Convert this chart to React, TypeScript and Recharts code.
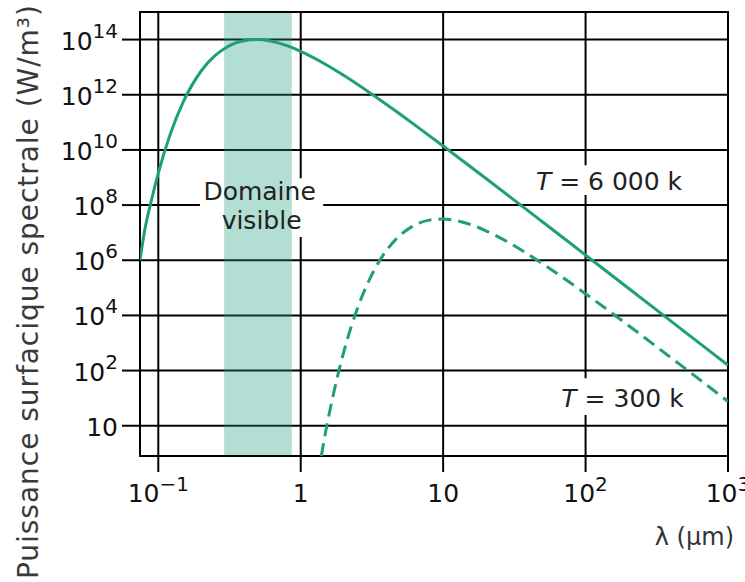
import React from 'react';
import { LineChart, Line, XAxis, YAxis, CartesianGrid, ReferenceArea } from 'recharts';

// Wavelength (µm) and spectral exitance (W/m³)
const lambda6000 = [0.0744, 0.08, 0.09, 0.1, 0.12, 0.15, 0.2, 0.25, 0.3, 0.4, 0.5, 0.6, 0.8, 1, 1.5, 2, 3, 5, 7, 10, 20, 50, 100, 200, 500, 1000];
const power6000 = [1e6, 1.1e7, 1.7e8, 1.44e9, 3.16e10, 5.6e11, 7.26e12, 2.6e13, 5.2e13, 9.1e13, 1.0e14, 9.0e13, 6.0e13, 3.74e13, 1.25e13, 5.05e12, 1.26e12, 1.95e11, 5.45e10, 1.38e10, 9.2e8, 2.44e7, 1.54e6, 9.7e4, 2.49e3, 156];

const lambda300 = [1.395, 1.45, 1.5, 1.6, 1.7, 1.85, 2, 2.25, 2.5, 3, 3.5, 4, 5, 6, 8, 10, 12, 15, 20, 30, 50, 100, 200, 500, 1000];
const power300 = [0.08, 0.252, 0.64, 3.42, 14.7, 95, 451, 3580, 1.79e4, 1.75e5, 7.98e5, 2.27e6, 8.17e6, 1.62e7, 2.85e7, 3.12e7, 2.82e7, 2.1e7, 1.17e7, 3.9e6, 7.43e5, 6.08e4, 4.32e3, 119, 7.6];

const xTicks = [0.1, 1, 10, 100, 1000];
const xTickBase = ['10', '1', '10', '10', '10'];
const xTickExp = ['\u22121', '', '', '2', '3'];

const yTicks = [1, 1e2, 1e4, 1e6, 1e8, 1e10, 1e12, 1e14];
const yTickBase = ['10', '10', '10', '10', '10', '10', '10', '10'];
const yTickExp = ['', '2', '4', '6', '8', '10', '12', '14'];

const xDomain = [0.0744, 1000];
const yDomain = [0.08, 1e15];
const visibleBand = [0.29, 0.865];

const labelDomaine = { x1: 0.196, x2: 1.44, y1: 6.9e6, y2: 9.3e8 };
const label6000 = { x1: 39.5, x2: 541, y1: 2.3e8, y2: 2.8e9 };
const label300 = { x1: 61, x2: 541, y1: 2.44, y2: 53 };

const TEAL = '#1f9e7d';
const FONT = '"DejaVu Sans", Verdana, sans-serif';

const series6000 = lambda6000.map((l, i) => ({ l, p: power6000[i] }));
const series300 = lambda300.map((l, i) => ({ l, p: power300[i] }));

const XTick = (props: any) => {
  const { x, y, payload } = props;
  const i = xTicks.indexOf(payload.value);
  return (
    <text x={x} y={y + 28} textAnchor="middle" fontFamily={FONT} fontSize={25} fill="#111">
      <tspan>{xTickBase[i]}</tspan>
      {xTickExp[i] ? <tspan dy={-11} fontSize={20}>{xTickExp[i]}</tspan> : null}
    </text>
  );
};

const YTick = (props: any) => {
  const { x, y, payload } = props;
  const i = yTicks.indexOf(payload.value);
  return (
    <text x={x} y={y + 10} textAnchor="end" fontFamily={FONT} fontSize={25} fill="#111">
      <tspan>{yTickBase[i]}</tspan>
      {yTickExp[i] ? <tspan dy={-12} fontSize={20}>{yTickExp[i]}</tspan> : null}
    </text>
  );
};

const DomaineText = (props: any) => {
  const { x, y, width } = props.viewBox;
  const cx = x + width / 2;
  return (
    <text textAnchor="middle" fontFamily={FONT} fontSize={25} fill="#222">
      <tspan x={cx - 2} y={y + 22}>Domaine</tspan>
      <tspan x={cx} y={y + 51}>visible</tspan>
    </text>
  );
};

const TText = (value: string, dyBase: number) => (props: any) => {
  const { x, y, width } = props.viewBox;
  return (
    <text x={x + width / 2} y={y + dyBase} textAnchor="middle" fontFamily={FONT} fontSize={25} fill="#222">
      <tspan fontStyle="italic">T</tspan>
      <tspan>{' = ' + value}</tspan>
    </text>
  );
};

export default function App() {
  return (
    <div style={{ position: 'absolute', left: 0, top: 0, width: 745, height: 582, background: '#fff' }}>
      <LineChart width={745} height={582} margin={{ top: 12, right: 17, bottom: 66, left: 0 }}>
        <CartesianGrid stroke="#000" strokeWidth={2} strokeOpacity={1} />
        <XAxis
          dataKey="l"
          type="number"
          scale="log"
          domain={xDomain}
          allowDataOverflow
          ticks={xTicks}
          tick={<XTick />}
          tickSize={16}
          tickMargin={2}
          tickLine={{ stroke: '#000', strokeWidth: 2 }}
          axisLine={false}
          height={60}
          interval={0}
          label={(p: any) => (
            <text x={734} y={545} textAnchor="end" fontFamily={FONT} fontSize={24} fill="#333">
              λ (µm)
            </text>
          )}
        />
        <YAxis
          dataKey="p"
          type="number"
          scale="log"
          domain={yDomain}
          allowDataOverflow
          ticks={yTicks}
          tick={<YTick />}
          tickSize={18}
          tickMargin={4}
          tickLine={{ stroke: '#000', strokeWidth: 2 }}
          axisLine={false}
          width={140}
          interval={0}
          label={(p: any) => (
            <text
              x={0}
              y={0}
              transform="translate(38 292) rotate(-90)"
              textAnchor="middle"
              fontFamily={FONT}
              fontSize={28}
              fill="#3a3a3a"
              textLength={574}
              lengthAdjust="spacing"
            >
              Puissance surfacique spectrale (W/m³)
            </text>
          )}
        />
        <ReferenceArea x1={labelDomaine.x1} x2={labelDomaine.x2} y1={labelDomaine.y1} y2={labelDomaine.y2} fill="#fff" fillOpacity={1} stroke="none" />
        <ReferenceArea x1={label6000.x1} x2={label6000.x2} y1={label6000.y1} y2={label6000.y2} fill="#fff" fillOpacity={1} stroke="none" />
        <ReferenceArea x1={label300.x1} x2={label300.x2} y1={label300.y1} y2={label300.y2} fill="#fff" fillOpacity={1} stroke="none" />
        <ReferenceArea x1={visibleBand[0]} x2={visibleBand[1]} y1={yDomain[0]} y2={yDomain[1]} fill={TEAL} fillOpacity={0.34} stroke="none" />
        <ReferenceArea x1={xDomain[0]} x2={xDomain[1]} y1={yDomain[0]} y2={yDomain[1]} fill="none" stroke="#000" strokeWidth={2} />
        <Line data={series6000} dataKey="p" type="monotone" stroke={TEAL} strokeWidth={3} dot={false} isAnimationActive={false} />
        <Line data={series300} dataKey="p" type="monotone" stroke={TEAL} strokeWidth={3} strokeDasharray="13 7" dot={false} isAnimationActive={false} />
        <ReferenceArea x1={labelDomaine.x1} x2={labelDomaine.x2} y1={labelDomaine.y1} y2={labelDomaine.y2} fill="none" stroke="none" label={DomaineText} />
        <ReferenceArea x1={label6000.x1} x2={label6000.x2} y1={label6000.y1} y2={label6000.y2} fill="none" stroke="none" label={TText('6 000 k', 25)} />
        <ReferenceArea x1={label300.x1} x2={label300.x2} y1={label300.y1} y2={label300.y2} fill="none" stroke="none" label={TText('300 k', 29)} />
      </LineChart>
    </div>
  );
}
